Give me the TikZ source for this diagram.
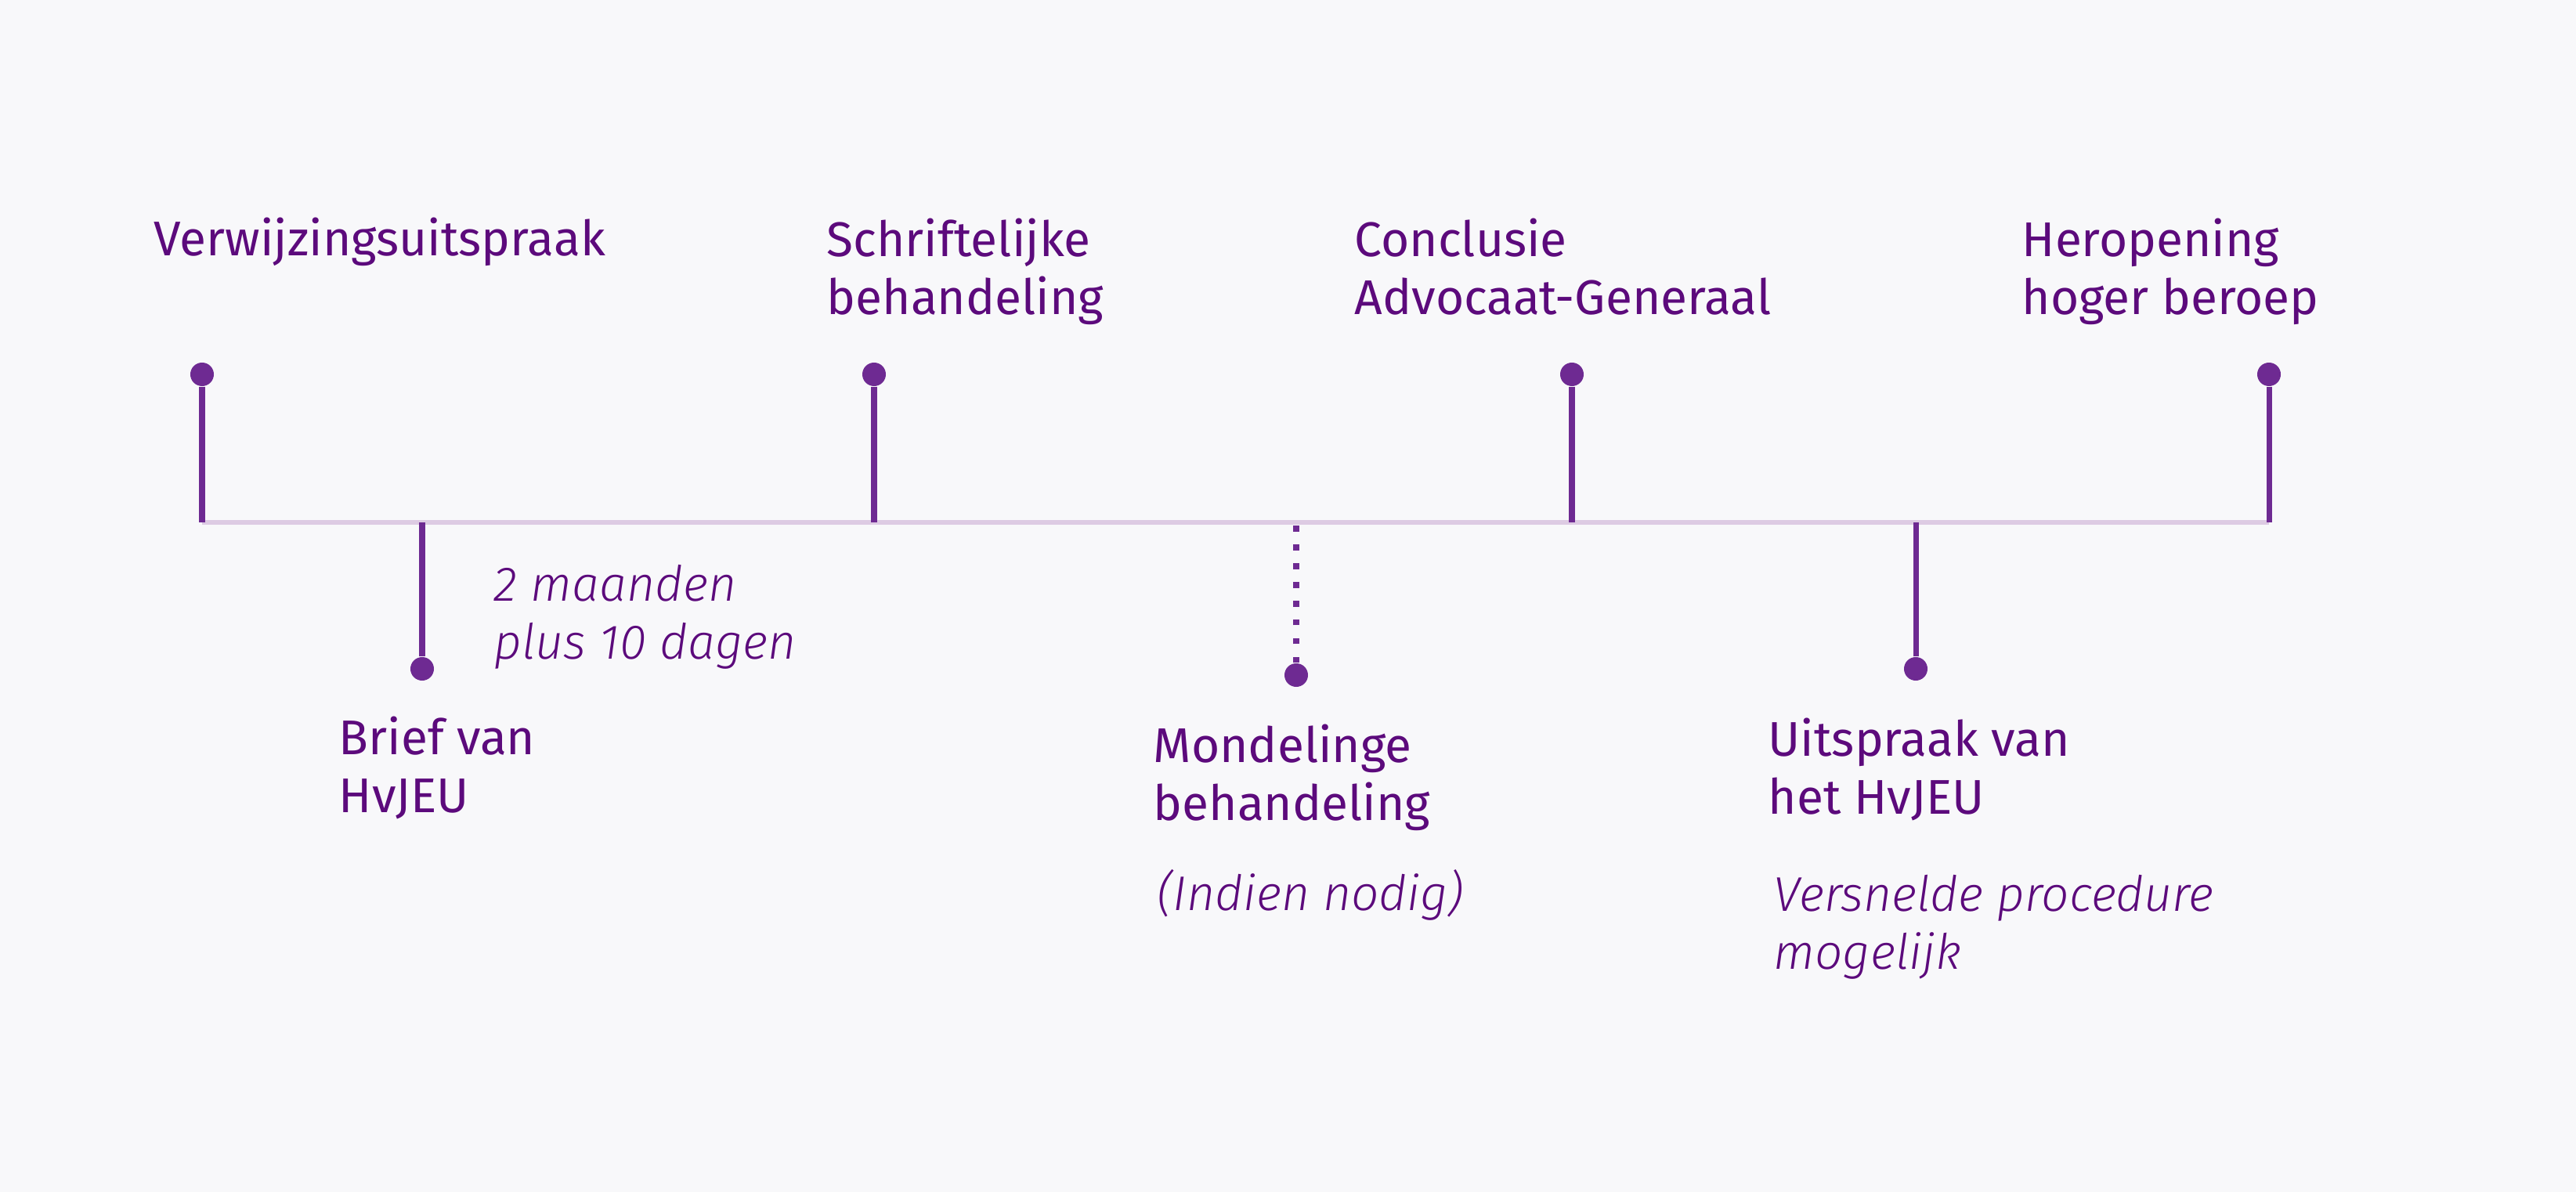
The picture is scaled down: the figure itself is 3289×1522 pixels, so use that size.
\documentclass[tikz,border=0pt]{standalone}
\usepackage{fontspec}
\setmainfont{Fira Sans}
\newfontfamily\notefont{Fira Sans Light}
\usetikzlibrary{positioning}

\definecolor{bgcol}{HTML}{F8F8FA}
\definecolor{axiscol}{HTML}{DDCBE3}
\definecolor{stemcol}{HTML}{6E2A92}
\definecolor{textcol}{HTML}{5C0A7C}

\tikzset{
  event/.style={anchor=base west, inner sep=0pt, align=left, text=textcol,
    font=\fontsize{17.7}{21.3}\selectfont},
  note/.style={event, font=\notefont\itshape\fontsize{17.7}{21.3}\selectfont},
  pin/.style={circle, fill=stemcol, inner sep=0pt, minimum size=0.3cm},
  stem/.style={draw=stemcol, line width=2pt},
}

\begin{document}
\begin{tikzpicture}[x=0.01cm, y=-0.01cm]
    % background and page size
    \fill[bgcol] (0,0) rectangle (3289,1522);
    \useasboundingbox (0,0) rectangle (3289,1522);

    % time axis
    \coordinate (start) at (258,667);
    \coordinate (end) at (2897,667);
    \draw[axiscol, line width=1.5pt] (start) -- (end);

    % points on the axis
    \coordinate (t1) at (258,667);
    \coordinate (t2) at (539,667);
    \coordinate (t3) at (1116,667);
    \coordinate (t4) at (1655,667);
    \coordinate (t5) at (2007,667);
    \coordinate (t6) at (2446,667);
    \coordinate (t7) at (2897,667);

    % pins above
    \node[pin] (p1) at (258,478) {};
    \node[pin] (p3) at (1116,478) {};
    \node[pin] (p5) at (2007,478) {};
    \node[pin] (p7) at (2897,478) {};
    % pins below
    \node[pin] (p2) at (539,854) {};
    \node[pin] (p4) at (1655,862) {};
    \node[pin] (p6) at (2446,854) {};

    \draw[stem] (p1) -- (t1);
    \draw[stem] (p3) -- (t3);
    \draw[stem] (p5) -- (t5);
    \draw[stem] (p7) -- (t7);
    \draw[stem] (p2) -- (t2);
    \draw[stem] (p6) -- (t6);
    \draw[stem, line width=2.2pt, dash pattern=on 2.2pt off 4.6pt] (p4) -- (t4);

    % labels (base = last line)
    \node[event] (verwijzing) at (196,327) {Verwijzingsuitspraak};
    \node[event] (schriftelijk) at (1055,402) {Schriftelijke\\behandeling};
    \node[event] (conclusie) at (1729,402) {Conclusie\\Advocaat-Generaal};
    \node[event] (heropening) at (2581,402) {Heropening\\hoger beroep};
    \node[event] (brief) at (432,1038) {Brief van\\HvJEU};
    \node[event] (mondeling) at (1472,1048) {Mondelinge\\behandeling};
    \node[event] (uitspraak) at (2257,1040) {Uitspraak van\\het HvJEU};

    % notes
    \node[note] (termijn) at (630,842) {2 maanden\\plus 10 dagen};
    \node[note] (indien) at (1477,1163) {(Indien nodig)};
    \node[note] (versneld) at (2264,1238) {Versnelde procedure\\mogelijk};
\end{tikzpicture}
\end{document}
